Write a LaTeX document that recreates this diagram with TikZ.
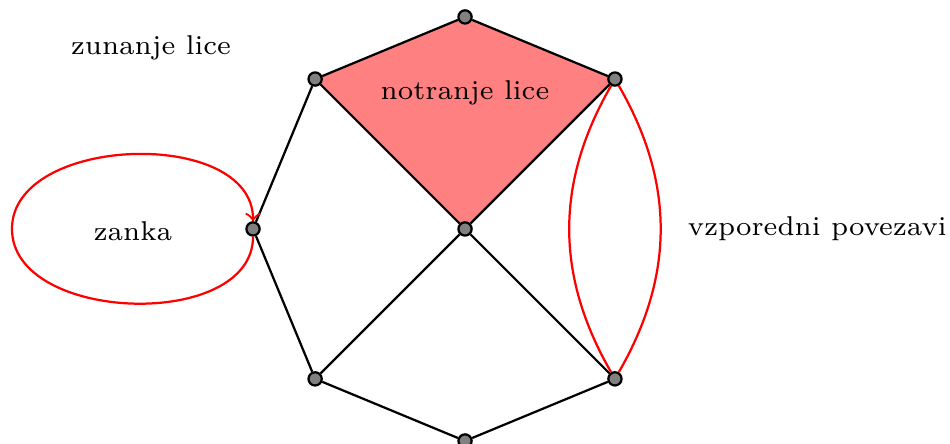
\documentclass[tikz,border=0pt]{standalone}
\usetikzlibrary{backgrounds}
\begin{document}
\begin{tikzpicture}[
    vertex/.style={circle, draw=black, fill=gray, inner sep=0pt, minimum size=1.25mm, semithick},
    edge/.style={semithick},
    redge/.style={semithick, red},
    lbl/.style={inner sep=0pt, font=\fontsize{7.3}{9}\selectfont}
]
\useasboundingbox (-4.387,-2.028) rectangle (4.575,2.160);

% vrhovi
\node (c) [vertex] at (0,0) {};
\node (t) [vertex] at (90:2) {};
\node (tl) [vertex] at (135:2) {};
\node (tr) [vertex] at (45:2) {};
\node (l) [vertex] at (180:2) {};
\node (bl) [vertex] at (225:2) {};
\node (br) [vertex] at (315:2) {};
\node (b) [vertex] at (270:2) {};

% notranje lice
\begin{scope}[on background layer]
\fill[red!50] (t.center) -- (tl.center) -- (c.center) -- (tr.center) -- cycle;
\end{scope}

% povezave
\draw [edge] (t) -- (tl) -- (l) -- (bl) -- (b) -- (br);
\draw [edge] (t) -- (tr);
\draw [edge] (tl) -- (c) -- (br);
\draw [edge] (tr) -- (c) -- (bl);

% vzporedni povezavi in zanka
\draw [redge] (tr) to[bend left=30] (br);
\draw [redge] (tr) to[bend right=30] (br);
\coordinate (zl) at (-4.274,0);
\draw [redge, ->] (l) to[out=-90, in=-90, looseness=1] (zl) to[out=90, in=90, looseness=1] (l);

% oznake
\node (outer) [lbl] at (-2.962,1.708) {zunanje lice};
\node (inner) [lbl] at (0,1.28) {notranje lice};
\node (loop) [lbl] at (-3.132,-0.02) {zanka};
\node (par) [lbl, anchor=east] at (4.55,0) {vzporedni povezavi};

\end{tikzpicture}
\end{document}
